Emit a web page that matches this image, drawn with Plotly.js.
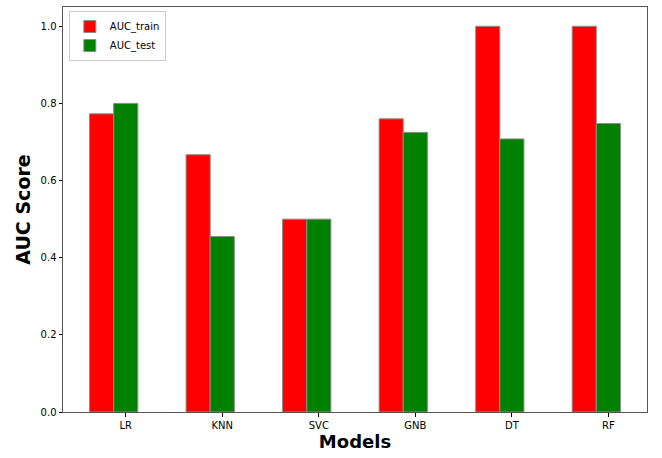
<!DOCTYPE html>
<html>
<head>
<meta charset="utf-8">
<script src="https://cdn.plot.ly/plotly-3.0.1.min.js"></script>
<style>
  html, body { margin: 0; padding: 0; background: #fff; }
  #graf { width: 662px; height: 458px; }
</style>
</head>
<body>
<div id="graf"></div>
<script>
// model names and scores
let models = ['LR', 'KNN', 'SVC', 'GNB', 'DT', 'RF'];
let aucTrain = [0.773, 0.667, 0.5, 0.76, 1.0, 1.0];
let aucTest = [0.8, 0.455, 0.5, 0.725, 0.708, 0.748];

let barWidth = 0.25;
let pos = models.map((m, i) => i);
let posTest = pos.map(p => p + barWidth);

let edge = { color: '#8c8c8c', width: 1 };

trace1 = {
    x: pos,
    y: aucTrain,
    type: 'bar',
    width: barWidth,
    marker: { color: 'red', line: edge },
    name: 'AUC_train'
};

trace2 = {
    x: posTest,
    y: aucTest,
    type: 'bar',
    width: barWidth,
    marker: { color: 'green', line: edge },
    name: 'AUC_test'
};

let axisFont = { family: 'DejaVu Sans', size: 10, color: '#000' };

let layout = {
    width: 662,
    height: 458,
    margin: { l: 63, r: 15, t: 7, b: 46 },
    paper_bgcolor: '#fff',
    plot_bgcolor: '#fff',
    barmode: 'overlay',
    showlegend: true,
    legend: {
        x: 0.01, y: 0.99, xanchor: 'left', yanchor: 'top',
        bgcolor: 'rgba(255,255,255,0.8)',
        bordercolor: '#cccccc', borderwidth: 1,
        font: { family: 'DejaVu Sans', size: 10, color: '#000' },
        tracegroupgap: 0
    },
    xaxis: {
        range: [-0.4, 5.65],
        tickmode: 'array',
        tickvals: posTest,
        ticktext: models,
        ticks: 'outside', ticklen: 3.5, tickcolor: '#000',
        showgrid: false, zeroline: false,
        showline: true, linecolor: '#555', linewidth: 1, mirror: true,
        tickfont: axisFont,
        title: { text: '<b>Models</b>', font: { family: 'DejaVu Sans', size: 18, color: '#000' }, standoff: 5 }
    },
    yaxis: {
        range: [0, 1.05],
        tickvals: [0, 0.2, 0.4, 0.6, 0.8, 1.0],
        tickformat: '.1f',
        ticks: 'outside', ticklen: 3.5, tickcolor: '#000',
        showgrid: false, zeroline: false,
        showline: true, linecolor: '#555', linewidth: 1, mirror: true,
        tickfont: axisFont,
        title: { text: '<b>AUC Score</b>', font: { family: 'DejaVu Sans', size: 19, color: '#000' }, standoff: 4 }
    }
};

graf = document.getElementById('graf');
Plotly.newPlot(graf, [trace1, trace2], layout, { displayModeBar: false, staticPlot: true });
</script>
</body>
</html>
